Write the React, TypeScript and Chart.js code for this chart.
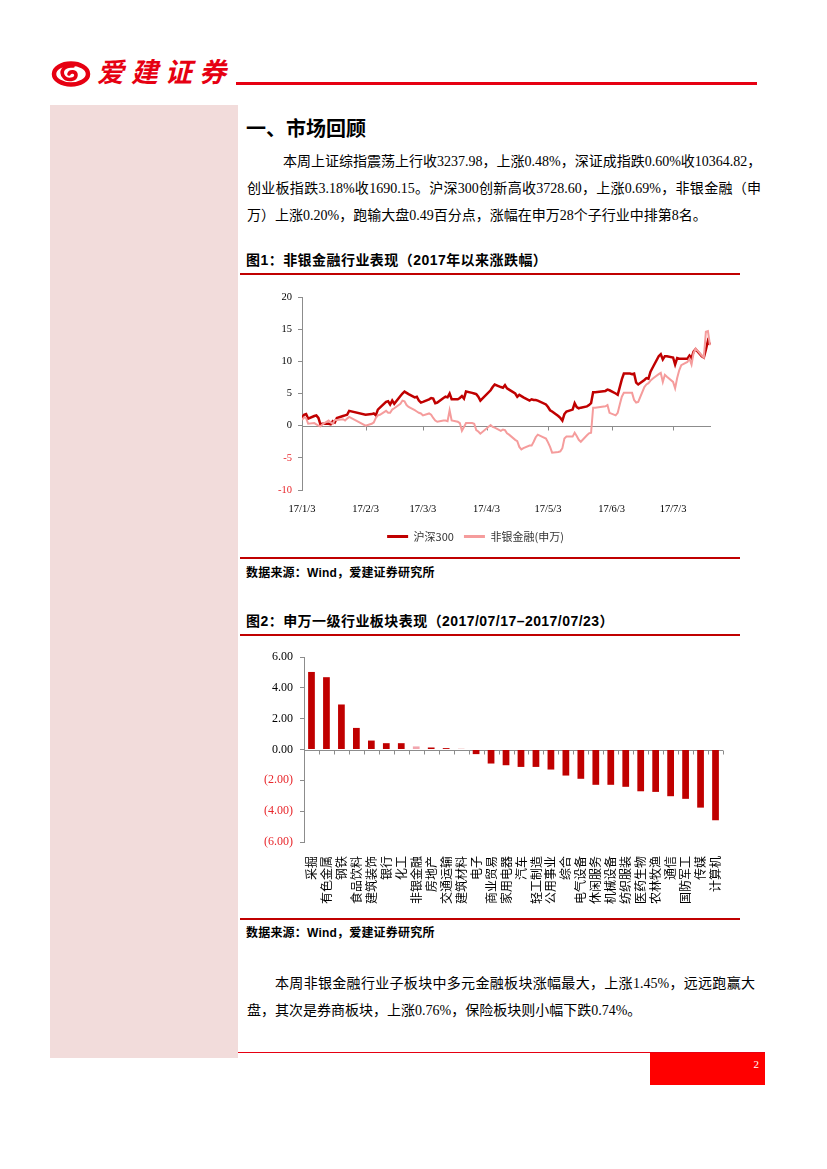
import React, { useEffect, useRef } from "react";
import { Chart, registerables } from "chart.js";
Chart.register(...registerables);

// ---------- Figure 1 data (trading days of 2017, cumulative % change) ----------
const JAN_DAYS = [3, 4, 5, 6, 9, 10, 11, 12, 13, 16, 17, 18, 19, 20, 23, 24, 25, 26];
const FEB_DAYS = [3, 6, 7, 8, 9, 10, 13, 14, 15, 16, 17, 20, 21, 22, 23, 24, 27, 28];
const MAR_DAYS = [1, 2, 3, 6, 7, 8, 9, 10, 13, 14, 15, 16, 17, 20, 21, 22, 23, 24, 27, 28, 29, 30, 31];
const APR_DAYS = [5, 6, 7, 10, 11, 12, 13, 14, 17, 18, 19, 20, 21, 24, 25, 26, 27, 28];
const MAY_DAYS = [2, 3, 4, 5, 8, 9, 10, 11, 12, 15, 16, 17, 18, 19, 22, 23, 24, 25, 26, 31];
const JUN_DAYS = [1, 2, 5, 6, 7, 8, 9, 12, 13, 14, 15, 16, 19, 20, 21, 22, 23, 26, 27, 28, 29, 30];
const JUL_DAYS = [3, 4, 5, 6, 7, 10, 11, 12, 13, 14, 17, 18, 19, 20, 21];

const HS300_JAN = [1.2, 1.7, 1.8, 1.1, 1.5, 1.6, 1.2, 0.2, 0.3, 0.3, 0.2, 0.7, 0.5, 1.2, 1.5, 1.6, 1.7, 2.3];
const HS300_FEB = [1.7, 1.8, 1.9, 1.6, 2.5, 2.8, 3.7, 3.8, 3.3, 3.9, 3.4, 4.6, 5.0, 5.3, 5.1, 4.9, 4.4, 4.5];
const HS300_MAR = [3.9, 3.6, 3.7, 4.1, 4.3, 4.2, 3.5, 3.6, 4.3, 4.5, 4.4, 5.0, 4.1, 4.1, 4.3, 4.6, 4.2, 5.3, 5.1, 5.0, 4.9, 4.5, 3.9];
const HS300_APR = [5.5, 6.0, 6.4, 6.0, 5.9, 6.3, 5.8, 5.6, 5.0, 4.5, 4.8, 4.6, 4.4, 3.9, 4.1, 4.0, 4.0, 3.9];
const HS300_MAY = [3.3, 2.9, 2.4, 2.2, 1.5, 1.2, 0.8, 1.8, 2.2, 2.5, 3.5, 2.9, 2.7, 2.8, 3.0, 3.2, 3.5, 5.2, 5.2, 5.4];
const HS300_JUN = [5.6, 5.5, 5.0, 4.8, 6.0, 7.2, 8.1, 8.1, 8.0, 8.1, 6.7, 6.4, 7.1, 7.4, 7.3, 8.4, 9.0, 10.8, 11.1, 10.3, 10.8, 10.8];
const HS300_JUL = [10.6, 9.5, 10.5, 10.4, 10.4, 10.4, 10.9, 10.5, 11.5, 11.9, 10.8, 10.6, 11.8, 13.2, 12.6];

const FIN_JAN = [0.9, 1.3, 1.2, 0.3, 0.4, 0.2, 0.0, -0.1, 0.2, 0.8, 0.5, 0.3, 0.9, 0.9, 1.0, 0.8, 1.1, 1.35];
const FIN_FEB = [0.0, 0.3, 0.5, 1.2, 1.6, 1.7, 2.3, 2.0, 2.0, 2.5, 2.7, 3.4, 3.9, 3.8, 3.2, 2.9, 2.4, 2.2];
const FIN_MAR = [2.0, 1.9, 1.6, 1.9, 1.7, 1.2, 0.8, 0.6, 0.8, 0.8, 0.7, 2.4, 0.8, 0.6, 0.4, -0.8, -0.2, 0.4, 0.4, 0.3, -0.7, -0.9, -1.25];
const FIN_APR = [0.1, -0.2, -0.3, -0.8, -0.6, -0.7, -1.2, -1.4, -2.2, -2.4, -3.3, -3.7, -3.5, -3.1, -3.1, -2.5, -1.8, -1.4];
const FIN_MAY = [-2.0, -2.6, -3.3, -4.2, -4.1, -4.0, -3.5, -2.0, -1.7, -1.7, -1.1, -1.6, -2.2, -2.5, -1.5, -1.2, -1.1, 2.8, 2.8, 3.0];
const FIN_JUN = [3.2, 2.0, 1.6, 2.0, 3.3, 4.5, 5.1, 5.1, 5.1, 4.0, 3.6, 3.7, 6.0, 6.4, 6.6, 7.0, 7.3, 8.0, 8.2, 6.8, 7.9, 7.6];
const FIN_JUL = [6.8, 5.8, 7.4, 8.6, 9.4, 9.9, 10.4, 9.5, 11.3, 12.0, 10.9, 10.6, 14.6, 14.7, 12.5];

const X_TICK_MONTHS = [1, 2, 3, 4, 5, 6, 7];
const X_TICK_LABELS = ["17/1/3", "17/2/3", "17/3/3", "17/4/3", "17/5/3", "17/6/3", "17/7/3"];
const Y1_TICKS = [-10, -5, 0, 5, 10, 15, 20];
const SERIES1_NAMES = ["沪深300", "非银金融(申万)"];

// ---------- Figure 2 data ----------
const INDUSTRIES = [
  "采掘", "有色金属", "钢铁", "食品饮料", "建筑装饰", "银行", "化工", "非银金融", "房地产", "交通运输",
  "建筑材料", "电子", "商业贸易", "家用电器", "汽车", "轻工制造", "公用事业", "综合", "电气设备", "休闲服务",
  "机械设备", "纺织服装", "医药生物", "农林牧渔", "通信", "国防军工", "传媒", "计算机",
];
const WEEK_CHANGE = [
  5.03, 4.69, 2.92, 1.4, 0.58, 0.41, 0.41, 0.2, 0.13, 0.09,
  0.04, -0.3, -0.91, -1.02, -1.13, -1.13, -1.3, -1.69, -1.9, -2.29,
  -2.29, -2.42, -2.71, -2.75, -3.03, -3.2, -3.77, -4.59,
];
const Y2_TICKS = [-6, -4, -2, 0, 2, 4, 6];
const HIGHLIGHT = "非银金融";

// ---------- styling ----------
const DARK_RED = "#C00000";
const PINK = "#F59C9C";
const BAR_PINK = "#F2A6AE";
const NEG_RED = "#E8262B";
const AXIS_GRAY = "#8C8C8C";
const SERIF = '"Liberation Serif", "Times New Roman", "Noto Sans CJK SC", serif';
const CJK = '"Noto Sans CJK SC", "Liberation Sans", sans-serif';
const BOLD = '"Liberation Sans", Arial, "Noto Sans CJK SC", sans-serif';

const DAY_MS = 86400000;
const BASE = Date.UTC(2017, 0, 3);
const dayOffset = (m: number, d: number) => (Date.UTC(2017, m - 1, d) - BASE) / DAY_MS;

const MONTH_LISTS: [number, number[]][] = [
  [1, JAN_DAYS], [2, FEB_DAYS], [3, MAR_DAYS], [4, APR_DAYS], [5, MAY_DAYS], [6, JUN_DAYS], [7, JUL_DAYS],
];
const TRADE_X: number[] = MONTH_LISTS.flatMap(([m, days]) => days.map((d) => dayOffset(m, d)));
const HS300 = [...HS300_JAN, ...HS300_FEB, ...HS300_MAR, ...HS300_APR, ...HS300_MAY, ...HS300_JUN, ...HS300_JUL];
const FIN = [...FIN_JAN, ...FIN_FEB, ...FIN_MAR, ...FIN_APR, ...FIN_MAY, ...FIN_JUN, ...FIN_JUL];
const X_TICK_VALUES = X_TICK_MONTHS.map((m) => dayOffset(m, 3));

const zeroAxisPlugin = {
  id: "zeroAxis",
  beforeDatasetsDraw(chart: any, _args: any, opts: any) {
    if (!opts || !opts.enabled) return;
    const { ctx, chartArea } = chart;
    const xs = chart.scales.x;
    const y0 = Math.round(chart.scales.y.getPixelForValue(0)) + 0.5;
    ctx.save();
    ctx.strokeStyle = AXIS_GRAY;
    ctx.lineWidth = 1;
    ctx.beginPath();
    ctx.moveTo(chartArea.left, y0);
    ctx.lineTo(chartArea.right, y0);
    const positions: number[] = [];
    if (opts.mode === "category") {
      const n = chart.data.labels.length;
      for (let i = 0; i <= n; i++) positions.push(chartArea.left + ((chartArea.right - chartArea.left) * i) / n);
    } else {
      xs.ticks.forEach((t: any) => positions.push(xs.getPixelForValue(t.value)));
    }
    positions.forEach((p) => {
      const px = Math.round(p) + 0.5;
      ctx.moveTo(px, y0);
      ctx.lineTo(px, y0 + 4);
    });
    ctx.stroke();
    ctx.restore();
  },
};

function LineChart() {
  const ref = useRef<HTMLCanvasElement>(null);
  useEffect(() => {
    const chart = new Chart(ref.current!, {
      type: "line",
      data: {
        datasets: [
          {
            label: SERIES1_NAMES[0],
            data: TRADE_X.map((x, i) => ({ x, y: HS300[i] })),
            borderColor: DARK_RED,
            backgroundColor: DARK_RED,
            borderWidth: 2.5,
            pointRadius: 0,
            tension: 0,
            order: 1,
          },
          {
            label: SERIES1_NAMES[1],
            data: TRADE_X.map((x, i) => ({ x, y: FIN[i] })),
            borderColor: PINK,
            backgroundColor: PINK,
            borderWidth: 2,
            pointRadius: 0,
            tension: 0,
            order: 0,
          },
        ],
      },
      options: {
        animation: false,
        responsive: false,
        devicePixelRatio: 1,
        layout: { padding: { left: 0, right: 39, top: 17, bottom: 3 } },
        scales: {
          x: {
            type: "linear",
            min: 0,
            max: 199.5,
            afterBuildTicks: (s: any) => {
              s.ticks = X_TICK_VALUES.map((v) => ({ value: v }));
            },
            afterFit: (s: any) => {
              s.height = 31;
            },
            ticks: {
              autoSkip: false,
              maxRotation: 0,
              padding: 5,
              color: "#000",
              font: { family: SERIF, size: 10.5 },
              callback: (v: any) => X_TICK_LABELS[X_TICK_VALUES.indexOf(Number(v))] ?? "",
            },
            grid: { display: false },
            border: { display: false },
          },
          y: {
            min: -10,
            max: 20,
            afterBuildTicks: (s: any) => {
              s.ticks = Y1_TICKS.map((v) => ({ value: v }));
            },
            afterFit: (s: any) => {
              s.width = 62;
            },
            ticks: {
              padding: 6,
              color: (c: any) => (c.tick && c.tick.value < 0 ? NEG_RED : "#000"),
              font: { family: SERIF, size: 10.5 },
            },
            grid: { drawOnChartArea: false, color: AXIS_GRAY, tickLength: 4 },
            border: { color: AXIS_GRAY },
          },
        },
        plugins: {
          zeroAxis: { enabled: true, mode: "ticks" },
          tooltip: { enabled: false },
          legend: {
            position: "bottom",
            labels: {
              boxWidth: 21,
              boxHeight: 3,
              padding: 10,
              color: "#333",
              font: { family: CJK, size: 11 },
              generateLabels: (c: any) =>
                Chart.defaults.plugins.legend.labels
                  .generateLabels(c)
                  .sort((a: any, b: any) => a.datasetIndex - b.datasetIndex)
                  .map((l: any) => ({ ...l, fillStyle: l.strokeStyle, lineWidth: 0 })),
            },
          },
        },
      } as any,
      plugins: [zeroAxisPlugin],
    });
    return () => chart.destroy();
  }, []);
  return <canvas ref={ref} width={510} height={275} style={{ width: 510, height: 275, display: "block" }} />;
}

function BarChart() {
  const ref = useRef<HTMLCanvasElement>(null);
  useEffect(() => {
    const chart = new Chart(ref.current!, {
      type: "bar",
      data: {
        labels: INDUSTRIES,
        datasets: [
          {
            data: WEEK_CHANGE,
            backgroundColor: INDUSTRIES.map((n) => (n === HIGHLIGHT ? BAR_PINK : DARK_RED)),
            barPercentage: 0.45,
            categoryPercentage: 1,
          },
        ],
      },
      options: {
        animation: false,
        responsive: false,
        devicePixelRatio: 1,
        layout: { padding: { left: 0, right: 27, top: 17, bottom: 0 } },
        scales: {
          x: {
            afterFit: (s: any) => {
              s.height = 73;
            },
            ticks: {
              autoSkip: false,
              minRotation: 90,
              maxRotation: 90,
              padding: 6,
              color: "#000",
              font: { family: CJK, size: 12 },
            },
            grid: { display: false },
            border: { display: false },
          },
          y: {
            min: -6,
            max: 6,
            afterBuildTicks: (s: any) => {
              s.ticks = Y2_TICKS.map((v) => ({ value: v }));
            },
            afterFit: (s: any) => {
              s.width = 64;
            },
            ticks: {
              padding: 7,
              color: (c: any) => (c.tick && c.tick.value < 0 ? NEG_RED : "#000"),
              font: { family: SERIF, size: 12 },
              callback: (v: any) => (v < 0 ? `(${Math.abs(v).toFixed(2)})` : Number(v).toFixed(2)),
            },
            grid: { drawOnChartArea: false, color: AXIS_GRAY, tickLength: 4 },
            border: { color: AXIS_GRAY },
          },
        },
        plugins: {
          zeroAxis: { enabled: true, mode: "category" },
          legend: { display: false },
          tooltip: { enabled: false },
        },
      } as any,
      plugins: [zeroAxisPlugin],
    });
    return () => chart.destroy();
  }, []);
  return <canvas ref={ref} width={510} height={275} style={{ width: 510, height: 275, display: "block" }} />;
}

const abs = (left: number, top: number, extra: React.CSSProperties = {}): React.CSSProperties => ({
  position: "absolute",
  left,
  top,
  ...extra,
});

const bodyText: React.CSSProperties = {
  fontFamily: SERIF,
  fontSize: 14,
  lineHeight: "27px",
  color: "#000",
  whiteSpace: "nowrap",
};

function JLine({ left, top, width, text, justify = true }: { left: number; top: number; width: number; text: string; justify?: boolean }) {
  return (
    <div
      style={abs(left, top, {
        ...bodyText,
        width,
        height: 27,
        textAlign: justify ? "justify" : "left",
        textAlignLast: justify ? "justify" : "left",
      } as React.CSSProperties)}
    >
      {text}
    </div>
  );
}

function RedRule({ top, left = 240, width = 500, height = 2, color = DARK_RED }: any) {
  return <div style={abs(left, top, { width, height, background: color })} />;
}

function Logo() {
  return (
    <svg style={abs(51, 60)} width={40} height={28} viewBox="0 0 40 28">
      <ellipse cx="20" cy="14" rx="17" ry="10.5" fill="none" stroke="#E60012" strokeWidth="4.5" />
      <path d="M22 6 C12 5 9 12 13 17 C16 21 25 20 25 15 C25 11 19 11 18 14" fill="none" stroke="#E60012" strokeWidth="3.6" strokeLinecap="round" />
    </svg>
  );
}

const captionStyle: React.CSSProperties = {
  fontFamily: BOLD,
  fontWeight: 700,
  fontSize: 14,
  lineHeight: "20px",
  color: "#000",
  letterSpacing: 0.45,
  whiteSpace: "nowrap",
};
const sourceStyle: React.CSSProperties = {
  fontFamily: BOLD,
  fontWeight: 700,
  fontSize: 12,
  lineHeight: "17px",
  color: "#000",
  letterSpacing: 0.2,
  whiteSpace: "nowrap",
};

export default function App() {
  return (
    <div style={{ position: "absolute", left: 0, top: 0, width: 827, height: 1169, background: "#fff", overflow: "hidden" }}>
      {/* header */}
      <Logo />
      <div
        style={abs(97, 52, {
          fontFamily: CJK,
          fontWeight: 700,
          fontSize: 27,
          letterSpacing: 7,
          color: "#E60012",
          lineHeight: "38px",
          fontStyle: "italic",
        })}
      >
        爱建证券
      </div>
      <RedRule top={82} left={236} width={521} height={3} color="#E60012" />

      {/* left sidebar */}
      <div style={abs(50, 105, { width: 188, height: 953, background: "#F2DCDB" })} />

      {/* section heading */}
      <div style={abs(246, 114, { fontFamily: CJK, fontWeight: 700, fontSize: 20, lineHeight: "28px", color: "#000" })}>
        一、市场回顾
      </div>

      <JLine left={283} top={148} width={478} text="本周上证综指震荡上行收3237.98，上涨0.48%，深证成指跌0.60%收10364.82，" />
      <JLine left={247} top={175} width={514} text="创业板指跌3.18%收1690.15。沪深300创新高收3728.60，上涨0.69%，非银金融（申" />
      <JLine left={247} top={202} width={514} text="万）上涨0.20%，跑输大盘0.49百分点，涨幅在申万28个子行业中排第8名。" justify={false} />

      {/* figure 1 */}
      <div style={abs(246, 250, captionStyle)}>图1：非银金融行业表现（2017年以来涨跌幅）</div>
      <RedRule top={273} />
      <div style={abs(240, 280)}>
        <LineChart />
      </div>
      <RedRule top={557} />
      <div style={abs(246, 565, sourceStyle)}>数据来源：Wind，爱建证券研究所</div>

      {/* figure 2 */}
      <div style={abs(246, 611, captionStyle)}>图2：申万一级行业板块表现（2017/07/17–2017/07/23）</div>
      <RedRule top={634} />
      <div style={abs(240, 640)}>
        <BarChart />
      </div>
      <RedRule top={918} />
      <div style={abs(246, 925, sourceStyle)}>数据来源：Wind，爱建证券研究所</div>

      {/* closing paragraph */}
      <JLine left={275} top={970} width={480} text="本周非银金融行业子板块中多元金融板块涨幅最大，上涨1.45%，远远跑赢大" />
      <JLine left={247} top={997} width={514} text="盘，其次是券商板块，上涨0.76%，保险板块则小幅下跌0.74%。" justify={false} />

      {/* footer */}
      <RedRule top={1052} left={238} width={527} height={1} color="#E60012" />
      <div style={abs(650, 1053, { width: 115, height: 32, background: "#FF0000" })} />
      <div style={abs(650, 1056, { width: 109, textAlign: "right", fontFamily: SERIF, fontSize: 11, lineHeight: "16px", color: "#fff" })}>
        2
      </div>
    </div>
  );
}
